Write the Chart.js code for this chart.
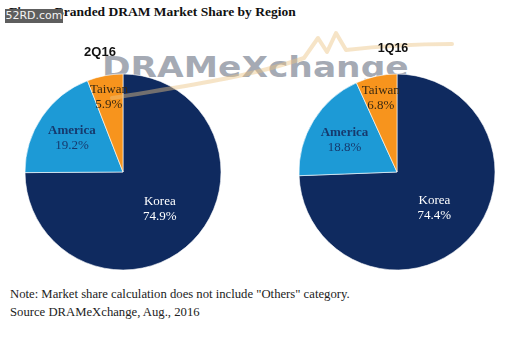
<!DOCTYPE html>
<html><head><meta charset="utf-8">
<script src="https://cdn.jsdelivr.net/npm/chart.js@4"></script>
<style>
html,body{margin:0;padding:0;background:#fff;}
#wrap{position:relative;width:532px;height:342px;overflow:hidden;background:#fff;}
.abs{position:absolute;white-space:nowrap;}
canvas{position:absolute;}
</style></head>
<body><div id="wrap">
<div class="abs" id="title" style="left:9px;top:4px;font:bold 13.5px 'Liberation Serif',serif;color:#111;"></div>
<div class="abs" style="left:5px;top:9px;width:58px;height:14px;background:#5e5e5e;color:#f4f4f4;font:11px 'DejaVu Sans',sans-serif;line-height:14px;text-align:center;z-index:5;">52RD.com</div>
<div class="abs" id="wm" style="left:102px;top:54px;font:bold 28px 'DejaVu Sans',sans-serif;line-height:28px;color:rgba(130,138,152,0.72);transform-origin:0 0;transform:scaleX(1.23);z-index:0;">DRAMeXchange</div>
<svg class="abs" style="left:0;top:0;z-index:2" width="532" height="342"><path d="M112 98 C 170 88, 240 80, 304 58 L 318 38 L 327 52 L 336 33 L 346 50 C 380 46, 420 44, 452 44" fill="none" stroke="rgba(236,196,130,0.45)" stroke-width="4" stroke-linejoin="round" stroke-linecap="round"/></svg>
<div class="abs" id="p0" style="left:100px;top:51px;transform:translate(-50%,-50%);font:bold 13px 'Liberation Sans',Arial,sans-serif;color:#111;z-index:3;"></div>
<div class="abs" id="p1" style="left:393px;top:48px;transform:translate(-50%,-50%);font:bold 12.5px 'Liberation Sans',Arial,sans-serif;color:#111;z-index:3;"></div>
<canvas id="c0" width="200" height="200" style="left:23px;top:72px;z-index:1"></canvas>
<canvas id="c1" width="200" height="200" style="left:297px;top:72px;z-index:1"></canvas>
<div class="abs" id="note" style="left:10px;top:287px;font:12.7px 'Liberation Serif',serif;color:#222;"></div>
<div class="abs" id="src" style="left:10px;top:305px;font:12.7px 'Liberation Serif',serif;color:#222;"></div>
</div>
<script>
const titleText = 'Figure: Branded DRAM Market Share by Region';
const periods = ['2Q16', '1Q16'];
const regions = ['Korea', 'America', 'Taiwan'];
const share2Q16 = [74.9, 19.2, 5.9];
const share1Q16 = [74.4, 18.8, 6.8];
const noteText = 'Note: Market share calculation does not include "Others" category.';
const sourceText = 'Source DRAMeXchange, Aug., 2016';

document.getElementById('title').textContent = titleText;
document.getElementById('p0').textContent = periods[0];
document.getElementById('p1').textContent = periods[1];
document.getElementById('note').textContent = noteText;
document.getElementById('src').textContent = sourceText;

const sliceColors = ['#0f2a5f', '#1d9ad6', '#f7941d'];
const labelColors = ['#ffffff', '#163a6e', '#3a2a12'];
const labelFrac = [0.53, 0.63, 0.78];

const labelPlugin = {
  id: 'sliceLabels',
  afterDatasetsDraw(chart) {
    const ctx = chart.ctx;
    const meta = chart.getDatasetMeta(0);
    const vals = chart.data.datasets[0].data;
    meta.data.forEach((arc, i) => {
      const p = arc.getProps(['x','y','startAngle','endAngle','outerRadius'], true);
      const mid = (p.startAngle + p.endAngle) / 2;
      const r = p.outerRadius * labelFrac[i];
      const x = p.x + Math.cos(mid) * r;
      const y = p.y + Math.sin(mid) * r;
      ctx.save();
      ctx.fillStyle = labelColors[i];
      ctx.textAlign = 'center';
      ctx.textBaseline = 'middle';
      ctx.font = (i === 1 ? 'bold ' : '') + '13px "Liberation Serif", serif';
      ctx.fillText(chart.data.labels[i], x, y - 7);
      ctx.font = '13px "Liberation Serif", serif';
      ctx.fillText(vals[i].toFixed(1) + '%', x, y + 8);
      ctx.restore();
    });
  }
};

function makePie(id, values) {
  new Chart(document.getElementById(id), {
    type: 'pie',
    data: { labels: regions, datasets: [{ data: values, backgroundColor: sliceColors,
      borderColor: 'rgba(255,255,255,0.6)', borderWidth: 1, hoverOffset: 0 }] },
    options: {
      responsive: false, animation: false, radius: 98,
      layout: { padding: 0 },
      plugins: { legend: { display: false }, tooltip: { enabled: false } }
    },
    plugins: [labelPlugin]
  });
}
makePie('c0', share2Q16);
makePie('c1', share1Q16);
</script>
</body></html>
